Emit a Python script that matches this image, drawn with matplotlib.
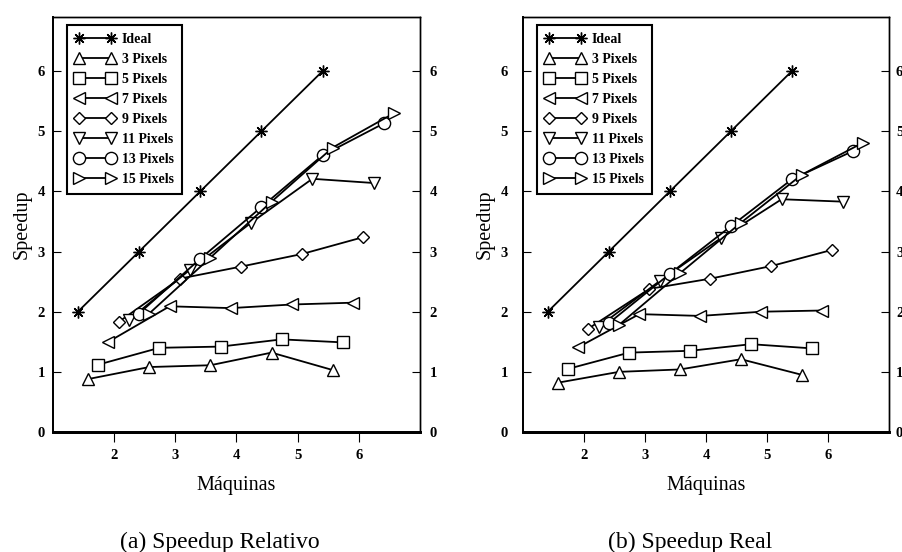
import matplotlib
matplotlib.use("Agg")
import matplotlib.pyplot as plt
import numpy as np

plt.rcParams['font.family'] = ['Liberation Serif', 'DejaVu Serif']

machines = [2, 3, 4, 5, 6]
series_names = ["Ideal", "3 Pixels", "5 Pixels", "7 Pixels", "9 Pixels",
                "11 Pixels", "13 Pixels", "15 Pixels"]

ideal = [2, 3, 4, 5, 6]

rel_3 = [0.88, 1.08, 1.11, 1.32, 1.03]
rel_5 = [1.12, 1.40, 1.42, 1.54, 1.49]
rel_7 = [1.50, 2.09, 2.06, 2.12, 2.15]
rel_9 = [1.83, 2.55, 2.75, 2.96, 3.24]
rel_11 = [1.86, 2.70, 3.48, 4.21, 4.14]
rel_13 = [1.97, 2.88, 3.74, 4.60, 5.13]
rel_15 = [1.97, 2.90, 3.83, 4.73, 5.30]

real_3 = [0.82, 1.00, 1.04, 1.21, 0.95]
real_5 = [1.05, 1.32, 1.35, 1.46, 1.39]
real_7 = [1.41, 1.96, 1.93, 2.00, 2.02]
real_9 = [1.72, 2.38, 2.55, 2.76, 3.03]
real_11 = [1.75, 2.51, 3.22, 3.87, 3.83]
real_13 = [1.81, 2.63, 3.42, 4.20, 4.67]
real_15 = [1.78, 2.64, 3.48, 4.28, 4.81]

y_ticks = [0, 1, 2, 3, 4, 5, 6]
x_ticks = [2, 3, 4, 5, 6]

captions = ["(a) Speedup Relativo", "(b) Speedup Real"]
xlabel = "Máquinas"
ylabel = "Speedup"

panels = [
    [ideal, rel_3, rel_5, rel_7, rel_9, rel_11, rel_13, rel_15],
    [ideal, real_3, real_5, real_7, real_9, real_11, real_13, real_15],
]

markers = [(8, 2, 0), '^', 's', '<', 'D', 'v', 'o', '>']
msizes = [8.5, 9.0, 8.0, 9.0, 6.4, 9.0, 8.8, 9.0]

W, H = 903, 552
fig = plt.figure(figsize=(W / 100, H / 100), dpi=100)

axes_px = [(53, 17, 420, 432), (523, 17, 889, 432)]
left_pads = [6, 11]
right_pads = [7, 5]
caption_x = [220, 690]
dodge = 1.0 / 6.0

for p, (l, t, r, b) in enumerate(axes_px):
    ax = fig.add_axes([l / W, 1 - b / H, (r - l) / W, (b - t) / H])
    for i, (name, vals) in enumerate(zip(series_names, panels[p])):
        xs = np.array(machines) + (i - 3.5) * dodge - 0.01
        ax.plot(xs, vals, color='black', lw=1.3, marker=markers[i],
                ms=msizes[i], mfc='white', mec='black', mew=1.0,
                label=name)
    ax.set_xlim(1, 7)
    ax.set_ylim(0, 6.9)
    ax.set_xticks(x_ticks)
    ax.set_yticks(y_ticks)
    ax.tick_params(axis='y', direction='in', length=5.8, width=0.8,
                   left=True, right=False, labelleft=True, labelright=False,
                   pad=left_pads[p], labelsize=10.5)
    ax.tick_params(axis='x', direction='out', length=7.2, width=0.8,
                   pad=5, labelsize=10.5)
    for lab in ax.get_xticklabels() + ax.get_yticklabels():
        lab.set_fontweight('bold')

    ax2 = ax.twinx()
    ax2.set_ylim(ax.get_ylim())
    ax2.set_yticks(y_ticks)
    ax2.tick_params(axis='y', direction='in', length=5.8, width=0.8,
                    pad=right_pads[p], labelsize=10.5)
    for lab in ax2.get_yticklabels():
        lab.set_fontweight('bold')
    for a in (ax, ax2):
        for s in ['top', 'right']:
            a.spines[s].set_linewidth(1.0)
        a.spines['left'].set_linewidth(1.3)
        a.spines['bottom'].set_linewidth(2.0)

    ax.set_xlabel(xlabel, fontsize=14.5, labelpad=10)
    ax.set_ylabel(ylabel, fontsize=14.5, labelpad=4)
    leg = ax2.legend(*ax.get_legend_handles_labels(),
                     loc='upper left', bbox_to_anchor=(14 / 367, 1 - 8 / 415),
                     borderaxespad=0, numpoints=2, handlelength=2.9,
                     handletextpad=0.45, labelspacing=0.5, borderpad=0.6,
                     fancybox=False, framealpha=1, edgecolor='black',
                     prop={'weight': 'bold', 'size': 10})
    leg.get_frame().set_linewidth(1.5)
    fig.text(caption_x[p] / W, 1 - 542 / H, captions[p], ha='center',
             va='center', fontsize=17)

fig.savefig("out.png", dpi=100)
